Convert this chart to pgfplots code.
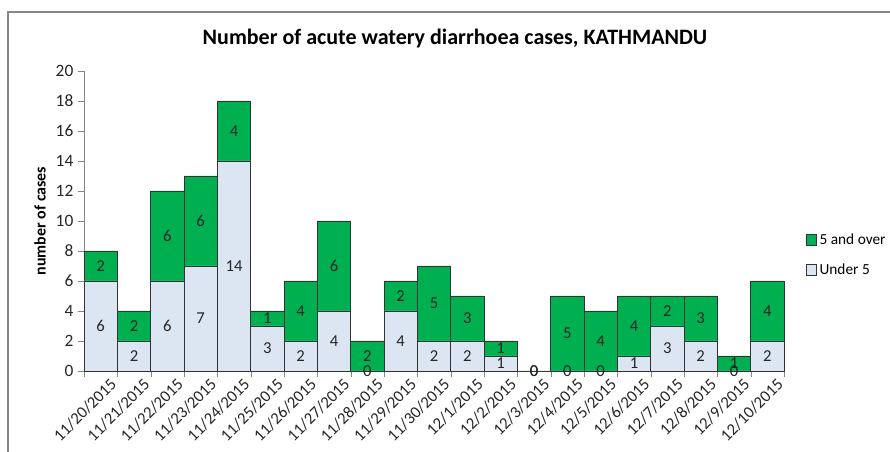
\documentclass[border=0pt]{standalone}
\usepackage{pgfplots}
\usepackage{pgfplotstable}
\pgfplotsset{compat=1.18}
\usepackage{fontspec}
\setmainfont{Carlito}
\definecolor{grn}{HTML}{00B050}
\definecolor{lb}{HTML}{DCE6F2}
\definecolor{axg}{HTML}{868686}
\pgfplotstableread{
x u o
0 6 2
1 2 2
2 6 6
3 7 6
4 14 4
5 3 1
6 2 4
7 4 6
8 0 2
9 4 2
10 2 5
11 2 3
12 1 1
13 0 0
14 0 5
15 0 4
16 1 4
17 3 2
18 2 3
19 0 1
20 2 4
}\data
\begin{document}
\begin{tikzpicture}
\useasboundingbox (0,0) rectangle (667.5pt,339pt);
\draw[axg, line width=0.8pt] (6pt,0) -- (6pt,330pt) -- (667.5pt,330pt);
\node[font=\bfseries\fontsize{16.5}{19}\selectfont] at (341.25pt,309.75pt) {Number of acute watery diarrhoea cases, KATHMANDU};
\begin{axis}[
  at={(63pt,60.75pt)}, anchor=south west,
  scale only axis, width=525pt, height=225pt,
  xmin=-0.5, xmax=20.5, ymin=0, ymax=20,
  ytick={0,2,...,20},
  xtick={0,...,20},
  xticklabels={11/20/2015,11/21/2015,11/22/2015,11/23/2015,11/24/2015,11/25/2015,11/26/2015,11/27/2015,11/28/2015,11/29/2015,11/30/2015,12/1/2015,12/2/2015,12/3/2015,12/4/2015,12/5/2015,12/6/2015,12/7/2015,12/8/2015,12/9/2015,12/10/2015},
  minor xtick={-0.5,0.5,...,20.5},
  axis x line*=bottom, axis y line*=left,
  axis line style={axg, -},
  major x tick style={draw=none},
  minor x tick style={axg},
  ytick style={axg},
  tick align=outside,
  major tick length=4.5pt, minor tick length=4.5pt,
  x tick label style={rotate=45, anchor=north east, font=\fontsize{12.5}{15}\selectfont, xshift=8pt, yshift=-1pt, text=black!85},
  y tick label style={font=\fontsize{13}{15}\selectfont, text=black!85},
  /pgf/number format/assume math mode=true,
  ylabel={\textbf{number of cases}},
  ylabel style={font=\fontsize{12}{14}\selectfont, at={(axis description cs:0,0.5)}, anchor=center, rotate=0, yshift=33pt},
  legend style={at={(axis description cs:1,0.387)}, xshift=16pt, anchor=west, draw=none, inner sep=0pt, font=\fontsize{11.5}{14}\selectfont, row sep=9pt,
    legend image code/.code={\draw[#1, line width=0.5pt] (0pt,-4pt) rectangle (8pt,4pt);}},
  legend cell align=left,
  clip=false,
]
\addplot[ybar, bar width=24.9pt, bar shift=0pt, fill=grn, draw=black!80, line width=0.5pt] table[x=x, y expr=\thisrow{u}+\thisrow{o}] {\data};
\addlegendentry{5 and over}
\addplot[ybar, bar width=24.9pt, bar shift=0pt, fill=lb, draw=black!80, line width=0.5pt] table[x=x, y=u] {\data};
\addlegendentry{Under 5}
\addplot[draw=none, mark=none, forget plot, nodes near coords, point meta=explicit,
  nodes near coords align=center, every node near coord/.append style={font=\fontsize{12.5}{14}\selectfont, text=black!85}] table[x=x, y expr=\thisrow{u}/2, meta=u] {\data};
\addplot[draw=none, mark=none, forget plot, nodes near coords, point meta=explicit,
  nodes near coords align=center, every node near coord/.append style={font=\fontsize{12.5}{14}\selectfont, text=black!85}] table[x=x, y expr=\thisrow{u}+\thisrow{o}/2, meta=o] {\data};
\end{axis}
\end{tikzpicture}
\end{document}
